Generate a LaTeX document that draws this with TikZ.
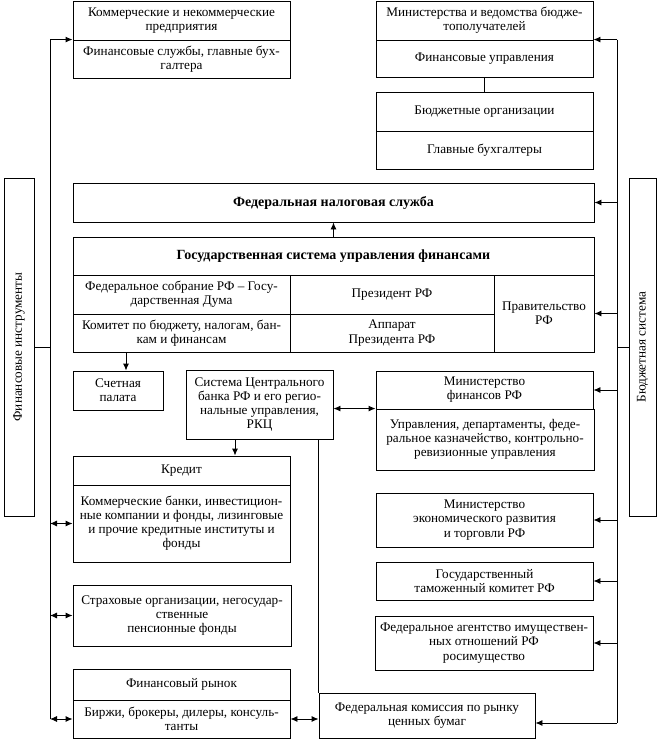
\documentclass[tikz,border=0pt]{standalone}
\usepackage{fontspec}
\setmainfont{Liberation Serif}
\usetikzlibrary{arrows.meta,calc}
\tikzset{
  box/.style={draw, inner sep=1pt, align=center},
  title/.style={font=\fontsize{14}{15}\selectfont\bfseries},
  conn/.style={line width=0.9pt},
  arr/.style={conn, -{Latex[length=7pt,width=6pt]}},
  darr/.style={conn, {Latex[length=7pt,width=6pt]}-{Latex[length=7pt,width=6pt]}},
}
\newcommand\bx[7][]{\node[box, minimum width={#5-#3}, minimum height={#6-#4}, #1] (#2) at ({(#3+#5)/2},{(#4+#6)/2}) {#7};}
\begin{document}
\begin{tikzpicture}[x=1pt,y=-1pt, line width=0.9pt, font=\fontsize{13.2}{14.1}\selectfont]
\useasboundingbox (0,0) rectangle (661,742);
% top left
\bx{kom1}{73}{1}{290}{40}{Коммерческие и некоммерческие\\предприятия}
\bx{kom2}{73}{40}{290}{78}{Финансовые службы, главные бух-\\галтера}
% top right
\bx{min1}{376}{1}{593}{40}{Министерства и ведомства бюдже-\\тополучателей}
\bx{min2}{376}{40}{593}{77}{Финансовые управления}
\bx{bud1}{376}{92}{593}{131}{Бюджетные организации}
\bx{bud2}{376}{131}{593}{169}{Главные бухгалтеры}
% FNS
\bx[title]{fns}{73}{183}{594}{222}{Федеральная налоговая служба}
% GSUF
\bx[title]{gt}{73}{237}{594}{275}{Государственная система управления финансами}
\bx{fs}{73}{275}{290}{314}{Федеральное собрание РФ – Госу-\\дарственная Дума}
\bx{kb}{73}{314}{290}{352}{Комитет по бюджету, налогам, бан-\\кам и финансам}
\bx{pr}{290}{275}{494}{314}{Президент РФ}
\bx{ap}{290}{314}{494}{352}{Аппарат\\Президента РФ}
\bx{prav}{494}{275}{594}{352}{Правительство\\РФ}
% middle
\bx{sp}{73}{371}{163}{410}{Счетная\\палата}
\bx{cb}{186}{370}{333}{439}{Система Центрального\\банка РФ и его регио-\\нальные управления,\\РКЦ}
\bx{minf1}{376}{371}{593}{409}{Министерство\\финансов РФ}
\bx{minf2}{376}{409}{594}{470}{Управления, департаменты, феде-\\ральное казначейство, контрольно-\\ревизионные управления}
% left column
\bx{kred1}{73}{456}{290}{485}{Кредит}
\bx{kred2}{73}{485}{290}{562}{Коммерческие банки, инвестицион-\\ные компании и фонды, лизинговые\\и прочие кредитные институты и\\фонды}
\bx{strah}{73}{585}{291}{646}{Страховые организации, негосудар-\\ственные\\пенсионные фонды}
\bx{finr1}{73}{669}{290}{700}{Финансовый рынок}
\bx{finr2}{73}{700}{290}{738}{Биржи, брокеры, дилеры, консуль-\\танты}
% right column
\bx{mer}{376}{493}{593}{547}{Министерство\\экономического развития\\и торговли РФ}
\bx{gtk}{376}{562}{593}{600}{Государственный\\таможенный комитет РФ}
\bx{ros}{375}{616}{593}{670}{Федеральное агентство имуществен-\\ных отношений РФ\\росимущество}
\bx{fkcb}{319}{693}{535}{738}{Федеральная комиссия по рынку\\ценных бумаг}
% side boxes
\node[box, rotate=90, minimum width=338, minimum height=30] (fi) at (19,347) {Финансовые инструменты};
\node[box, rotate=90, minimum width=338, minimum height=27] (bs) at (642.5,347) {Бюджетная система};
% buses
\coordinate (lb) at (50,0);
\coordinate (rb) at (617,0);
\coordinate (rbend) at ([yshift=-7.5pt]fkcb.east);
\draw[conn] (lb |- kom2.north west) -- (lb |- finr2.west);
\draw[conn] (rb |- min2.north east) -- (rb |- rbend);
\draw[conn] (fi.south) -- (lb |- fi.south);
\draw[conn] (bs.north) -- (rb |- bs.north);
% left bus arrows
\draw[arr] (lb |- kom2.north west) -- (kom2.north west);
\draw[darr] (lb |- kred2.west) -- (kred2.west);
\draw[darr] (lb |- strah.west) -- (strah.west);
\draw[darr] (lb |- finr2.west) -- (finr2.west);
% right bus arrows
\draw[arr] (rb |- min2.north east) -- (min2.north east);
\draw[arr] (rb |- fns.east) -- (fns.east);
\draw[arr] (rb |- prav.east) -- (prav.east);
\draw[arr] (rb |- minf1.east) -- (minf1.east);
\draw[arr] (rb |- mer.east) -- (mer.east);
\draw[arr] (rb |- gtk.east) -- (gtk.east);
\draw[arr] (rb |- ros.east) -- (ros.east);
\draw[arr] (rb |- rbend) -- (rbend);
% internal connectors
\draw[conn] (min2.south) -- (bud1.north);
\draw[arr] (gt.north) -- (fns.south);
\coordinate (spin) at ([xshift=8pt]sp.north);
\draw[arr] (spin |- kb.south) -- (spin);
\coordinate (cbk) at ([xshift=-24.5pt]cb.south);
\draw[arr] (cbk) -- (cbk |- kred1.north);
\draw[conn] (cb.south -| fkcb.north west) -- (fkcb.north west);
\draw[darr] (cb.east |- minf2.north west) -- (minf2.north west);
\draw[darr] (finr2.east) -- (fkcb.west |- finr2.east);
\end{tikzpicture}
\end{document}
